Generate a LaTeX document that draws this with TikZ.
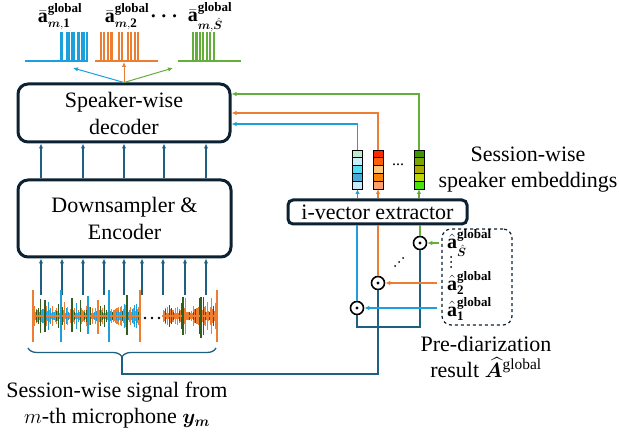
\documentclass[tikz,border=0pt]{standalone}
\usepackage{amsmath}
\usepackage{bm}
\usepackage{fontspec}
\setmainfont{Liberation Serif}
\DeclareMathSizes{20}{20}{13}{9}
\usetikzlibrary{arrows.meta,decorations.pathreplacing,calc}
\definecolor{cb}{RGB}{28,160,220}
\definecolor{co}{RGB}{237,125,49}
\definecolor{cg}{RGB}{100,175,60}
\definecolor{cd}{RGB}{30,96,130}
\definecolor{nav}{RGB}{12,34,50}
\definecolor{wgr}{RGB}{50,95,30}
\definecolor{b1}{RGB}{190,235,205}\definecolor{b2}{RGB}{200,240,250}\definecolor{b3}{RGB}{80,220,245}\definecolor{b4}{RGB}{70,170,220}\definecolor{b5}{RGB}{200,235,250}
\definecolor{o1}{RGB}{255,40,0}\definecolor{o2}{RGB}{255,95,10}\definecolor{o3}{RGB}{255,200,120}\definecolor{o4}{RGB}{250,130,10}\definecolor{o5}{RGB}{255,160,110}
\definecolor{g1}{RGB}{60,150,0}\definecolor{g2}{RGB}{120,165,0}\definecolor{g3}{RGB}{170,170,0}\definecolor{g4}{RGB}{190,215,0}\definecolor{g5}{RGB}{70,230,10}
\tikzset{
  box/.style={draw=nav, line width=3pt, rounded corners=10pt, align=center, font=\fontsize{22}{27}\selectfont, inner sep=0pt},
  arr/.style={-{Latex[length=5pt,width=4.5pt]}, line width=1.3pt},
  ln/.style={line width=1.3pt},
  mul/.style={circle, draw=black, line width=1.6pt, minimum size=13pt, inner sep=0pt, fill=white},
  lbl/.style={font=\fontsize{22}{26}\selectfont, align=center, inner sep=0pt},
  mlbl/.style={font=\fontsize{20}{22}\selectfont, inner sep=0pt},
  vec/.style={minimum width=10pt, minimum height=39pt, inner sep=0pt, outer sep=0pt},
}
\begin{document}
\begin{tikzpicture}[x=1pt,y=-1pt]
\useasboundingbox (0,0) rectangle (619,438);

% ---- top labels
\node[mlbl] (l1) at (60,17) {$\bar{\mathbf a}^{\mathbf{global}}_{\boldsymbol{m},\mathbf{1}}$};
\node[mlbl] (l2) at (127,17) {$\bar{\mathbf a}^{\mathbf{global}}_{\boldsymbol{m},\mathbf{2}}$};
\node[mlbl] (l3) at (166,17) {$\boldsymbol{\cdots}$};
\node[mlbl] (l4) at (210,17) {$\bar{\mathbf a}^{\mathbf{global}}_{\boldsymbol{m},\hat{\boldsymbol{S}}}$};

% ---- spike trains
\draw[cb, line width=2.5pt] (25,61) -- (88,61);
\foreach \a/\b in {60/63,65.5/69.5,70.5/75,77/80,81/84.5,85.5/88}{\fill[cb] (\a,32) rectangle (\b,61);}
\draw[co, line width=2.5pt] (95,61) -- (158,61);
\foreach \a/\b in {100/102,103/105,107/109,110/113,118/119.5,121/123,127/129,130/132,134/136,137/138.5}{\fill[co] (\a,32) rectangle (\b,61);}
\draw[cg, line width=2.5pt] (178,61) -- (241,61);
\foreach \a/\b in {192/194,195/197.5,199/201,202/204,205.5/207.5,209/211,212.5/215}{\fill[cg] (\a,32) rectangle (\b,61);}

% ---- boxes
\node[box, minimum width=212pt, minimum height=58pt] (dec) at (124,113) {Speaker-wise\\decoder};
\node[box, minimum width=213pt, minimum height=77pt] (enc) at (124.5,218.5) {Downsampler \&\\Encoder};
\node[box, rounded corners=5pt, minimum width=179pt, minimum height=24pt] (ivec) at (377.5,212) {i-vector extractor};

% ---- decoder outputs
\coordinate (t1) at (73,68);
\coordinate (t2) at (124,62);
\coordinate (t3) at (173,68);
\draw[arr,cb, line width=1pt] (dec.north) -- (t1);
\draw[arr,co, line width=1pt] (dec.north) -- (t2);
\draw[arr,cg, line width=1pt] (dec.north) -- (t3);

% ---- encoder -> decoder
\foreach \x in {41,83,124,164,206}{\draw[arr,cd] (enc.north -| \x,0) -- (dec.south -| \x,0);}

% ---- waveform
\coordinate (wtop) at (0,295);
\foreach \x in {41,62,83,104,124,142,163,185,206}{\draw[arr,cd] (wtop -| \x,0) -- (enc.south -| \x,0);}
\pgfmathsetseed{11}
\foreach \x in {34,34.7,...,139.5}{
  \pgfmathsetmacro\wrnd{rnd}
  \pgfmathsetmacro\wamp{3+8*\wrnd*\wrnd}
  \draw[co, line width=0.8pt] (\x,316-\wamp) -- (\x,316+\wamp);
}
\foreach \x in {163,163.7,...,217}{
  \pgfmathsetmacro\wrnd{rnd}
  \pgfmathsetmacro\wamp{3+7*\wrnd*\wrnd}
  \draw[co, line width=0.8pt] (\x,316-\wamp) -- (\x,316+\wamp);
}
\foreach \x in {36,38,...,138}{
  \pgfmathsetmacro\wrnd{rnd}
  \pgfmathsetmacro\wamp{4+17*\wrnd*\wrnd*\wrnd}
  \pgfmathtruncatemacro\wsel{int(2.4*rnd)}
  \ifcase\wsel\relax \def\wcol{cb}\or\def\wcol{wgr}\else\def\wcol{co}\fi
  \draw[\wcol, line width=1pt] (\x,316-\wamp) -- (\x,316+\wamp);
}
\foreach \x in {165,167,...,216}{
  \pgfmathsetmacro\wrnd{rnd}
  \pgfmathsetmacro\wamp{4+15*\wrnd*\wrnd*\wrnd}
  \pgfmathtruncatemacro\wsel{int(1.7*rnd)}
  \ifcase\wsel\relax \def\wcol{wgr}\else\def\wcol{co}\fi
  \draw[\wcol, line width=1pt] (\x,316-\wamp) -- (\x,316+\wamp);
}
\draw[co, line width=2.5pt] (33,316) -- (140,316);
\draw[co, line width=2.5pt] (162,316) -- (218,316);
\foreach \x/\t/\b/\c in {33/290/342/co,140/290/342/co,217/290/342/co,61/290/342/cb,109/290/342/cb,127/295/335/wgr,183/297/335/wgr,201/297/338/wgr,88/296/334/cb,45/300/332/wgr,72/298/332/wgr,98/300/334/co}{
  \draw[\c, line width=1.2pt] (\x,\t) -- (\x,\b);}
\foreach \x in {145,152,159}{\fill (\x,318) circle (1.3pt);}

% ---- brace and signal line
\draw[cd, line width=1.3pt, decorate, decoration={brace, mirror, amplitude=9pt}] (28,348) -- (216,348);
\coordinate (brtip) at (122,357);

% ---- multipliers
\node[mul] (m1) at (357,308) {};
\node[mul] (m2) at (378,283) {};
\node[mul] (m3) at (420,243) {};
\foreach \m in {m1,m2,m3}{\fill (\m) circle (1.6pt);}
\foreach \p in {(395,266),(399,262),(403,258)}{\fill \p circle (1pt);}

\draw[cd, ln] (brtip) -- (brtip |- 0,374) -| (m2.south);
\draw[cd, ln] (m3.south) -- (m3.south |- 0,327) -| (m1.south);

\draw[cb, ln] (m1.north) -- (ivec.south -| m1);
\draw[co, ln] (m2.north) -- (ivec.south -| m2);
\draw[cg, ln] (m3.north) -- (ivec.south -| m3);

% ---- pre-diarization box
\node[draw=nav, dashed, line width=1.2pt, rounded corners=9pt, minimum width=70pt, minimum height=96pt] (pred) at (477,277) {};
\node[mlbl, anchor=west] (p3) at (447,243) {$\hat{\mathbf a}^{\mathbf{global}}_{\hat{\boldsymbol{S}}}$};
\foreach \y in {257,262,267}{\fill (451,\y) circle (1pt);}
\node[mlbl, anchor=west] (p2) at (447,283) {$\hat{\mathbf a}^{\mathbf{global}}_{\mathbf{2}}$};
\node[mlbl, anchor=west] (p1) at (447,309) {$\hat{\mathbf a}^{\mathbf{global}}_{\mathbf{1}}$};
\draw[arr,cb] ([xshift=-4pt]pred.west |- m1) -- (m1.east);
\draw[arr,co] ([xshift=-4pt]pred.west |- m2) -- (m2.east);
\draw[arr,cg] ([xshift=-2pt]pred.west |- m3) -- (m3.east);

% ---- embeddings
\node[vec] (eb) at (357.5,169.5) {};
\node[vec] (eo) at (378,169.5) {};
\node[vec] (eg) at (419,169.5) {};
\foreach \i/\cl in {0/b1,1/b2,2/b3,3/b4,4/b5}{\filldraw[fill=\cl, draw=black, line width=0.6pt] (352.5,150+7.8*\i) rectangle ++(10,7.8);}
\foreach \i/\cl in {0/o1,1/o2,2/o3,3/o4,4/o5}{\filldraw[fill=\cl, draw=black, line width=0.6pt] (373,150+7.8*\i) rectangle ++(10,7.8);}
\foreach \i/\cl in {0/g1,1/g2,2/g3,3/g4,4/g5}{\filldraw[fill=\cl, draw=black, line width=0.6pt] (414,150+7.8*\i) rectangle ++(10,7.8);}
\node[font=\fontsize{16}{18}\selectfont, inner sep=0pt] (edots) at (398,165) {...};
\draw[arr,cb] (ivec.north -| eb) -- (eb.south);
\draw[arr,co] (ivec.north -| eo) -- (eo.south);
\draw[arr,cg] (ivec.north -| eg) -- (eg.south);
\draw[arr,cb] (eb.north) |- (dec.east |- 0,124);
\draw[arr,co] (eo.north) |- (dec.east |- 0,113);
\draw[arr,cg] (eg.north) |- (dec.east |- 0,94);

% ---- texts
\node[lbl] (tse) at (528,170) {Session-wise\\speaker embeddings};
\node[lbl] (tpd) at (486,357) {Pre-diarization\\result $\widehat{\boldsymbol{A}}^{\text{global}}$};
\node[lbl] (tsig) at (117,405) {Session-wise signal from\\$m$-th microphone $\boldsymbol{y}_{\boldsymbol{m}}$};
\end{tikzpicture}
\end{document}
